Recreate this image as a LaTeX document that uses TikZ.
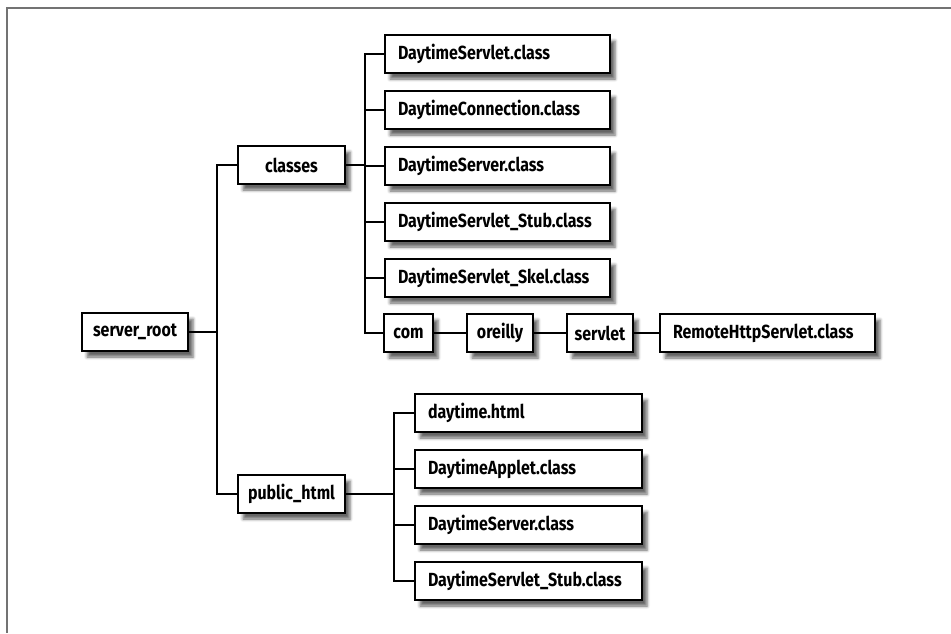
\documentclass[tikz,border=0pt]{standalone}
\usepackage{fontspec}
\setmainfont{Fira Sans}[FakeStretch=0.84]
\usetikzlibrary{shadows.blur}
\begin{document}
\begin{tikzpicture}[x=1pt,y=-1pt,
  box/.style={draw, line width=1.6pt, fill=white, minimum height=38pt, inner sep=0pt,
    font=\fontsize{19}{21}\selectfont\bfseries,
    blur shadow={shadow xshift=5pt, shadow yshift=-6pt, shadow blur radius=3pt, shadow opacity=60}},
  leaf/.style={box, minimum width=#1, text width=#1-26pt, align=left},
  conn/.style={line width=1.6pt},
  frame/.style={line width=2.6pt, black!55}]
\useasboundingbox (0,0) rectangle (951,633);
\draw[frame] (951,8) -- (7,8) -- (7,633);

\node[box, minimum width=106pt] (root) at (135,332) {server\_root};
\node[box, minimum width=107pt] (classes) at (291.5,165) {classes};
\node[box, minimum width=107pt] (pub) at (291.5,494) {public\_html};

\node[leaf=225pt] (c1) at (497.5,54) {DaytimeServlet.class};
\node[leaf=225pt] (c2) at (497.5,110) {DaytimeConnection.class};
\node[leaf=225pt] (c3) at (497.5,166) {DaytimeServer.class};
\node[leaf=225pt] (c4) at (497.5,222) {DaytimeServlet\_Stub.class};
\node[leaf=225pt] (c5) at (497.5,278) {DaytimeServlet\_Skel.class};

\node[box, minimum width=49pt] (com) at (408.5,333) {com};
\node[box, minimum width=66pt] (oreilly) at (500,333) {oreilly};
\node[box, minimum width=66pt] (servlet) at (600,333) {servlet};
\node[leaf=215pt] (remote) at (767.5,333) {RemoteHttpServlet.class};

\node[leaf=227pt] (p1) at (528.5,413) {daytime.html};
\node[leaf=227pt] (p2) at (528.5,469) {DaytimeApplet.class};
\node[leaf=227pt] (p3) at (528.5,525) {DaytimeServer.class};
\node[leaf=227pt] (p4) at (528.5,581) {DaytimeServlet\_Stub.class};

\coordinate (t) at (217,332);
\coordinate (cb) at (365,165);
\coordinate (pb) at (394,494);

\draw[conn] (root.east) -- (t);
\draw[conn] (classes.west) -| (t) |- (pub.west);

\draw[conn] (classes.east) -- (cb);
\draw[conn] (c1.west) -| (cb) |- (com.west);
\draw[conn] (c2.west) -- (c2.west -| cb);
\draw[conn] (c3.west) -- (c3.west -| cb);
\draw[conn] (c4.west) -- (c4.west -| cb);
\draw[conn] (c5.west) -- (c5.west -| cb);

\draw[conn] (com.east) -- (oreilly.west);
\draw[conn] (oreilly.east) -- (servlet.west);
\draw[conn] (servlet.east) -- (remote.west);

\draw[conn] (pub.east) -- (pb);
\draw[conn] (p1.west) -| (pb) |- (p4.west);
\draw[conn] (p2.west) -- (p2.west -| pb);
\draw[conn] (p3.west) -- (p3.west -| pb);
\end{tikzpicture}
\end{document}
